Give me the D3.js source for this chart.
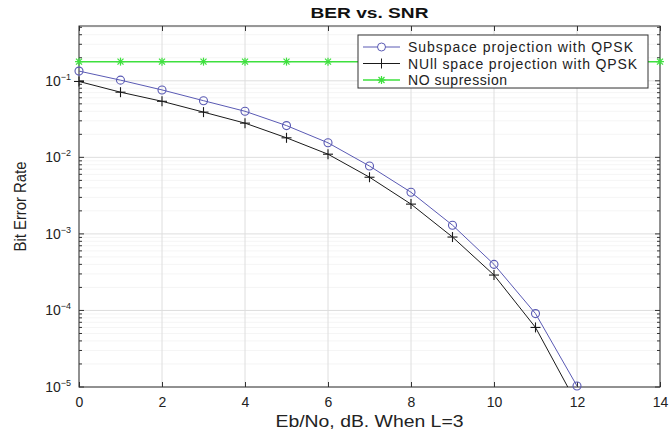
<!DOCTYPE html>
<html>
<head>
<meta charset="utf-8">
<script src="https://cdn.jsdelivr.net/npm/d3@7"></script>
<style>
  body { margin: 0; background: #fff; }
  svg { font-family: "Liberation Sans", Arial, sans-serif; }
</style>
</head>
<body>
<svg width="672" height="431"></svg>
<script>
// chart data
var snr = [0, 1, 2, 3, 4, 5, 6, 7, 8, 9, 10, 11, 12, 13, 14];
var subspaceBER = [0.134, 0.102, 0.076, 0.055, 0.040, 0.026, 0.0155, 0.0077, 0.0035, 0.0013, 0.0004, 0.000091, 0.0000103];
var nullBER = [0.098, 0.071, 0.054, 0.039, 0.028, 0.018, 0.011, 0.0055, 0.00245, 0.00091, 0.00029, 0.00006, 0.000006];
var noSupBER = [0.178, 0.178, 0.178, 0.178, 0.178, 0.178, 0.178, 0.178, 0.178, 0.178, 0.178, 0.178, 0.178, 0.178, 0.178];
var xTicks = [0, 2, 4, 6, 8, 10, 12, 14];
var yDecades = [-5, -4, -3, -2, -1];
var legendLabels = ["Subspace projection with QPSK", "NUll space projection with QPSK", "NO supression"];

var svg = d3.select("svg");
var margin = {top: 26, right: 12, bottom: 44, left: 79};
var width = 672 - margin.left - margin.right;
var height = 431 - margin.top - margin.bottom;

var x = d3.scaleLinear().domain([0, 14]).range([0, width]);
var y = d3.scaleLog().domain([1e-5, 0.52]).range([height, 0]);

var g = svg.append("g")
    .attr("transform", "translate(" + margin.left + "," + margin.top + ")");

svg.append("defs").append("clipPath").attr("id", "plotclip")
  .append("rect").attr("x", 0).attr("y", 0).attr("width", width).attr("height", height);

// minor log values
var minors = [];
yDecades.forEach(function(e) {
  for (var k = 2; k <= 9; k++) {
    var v = k * Math.pow(10, e);
    if (v <= 0.52) minors.push(v);
  }
});
var majors = yDecades.map(function(e) { return Math.pow(10, e); });

// grid
g.append("g").selectAll("line").data(minors).enter().append("line")
  .attr("x1", 0).attr("x2", width)
  .attr("y1", function(d) { return y(d); }).attr("y2", function(d) { return y(d); })
  .attr("stroke", "#f5f5f5").attr("stroke-width", 1);
g.append("g").selectAll("line").data(majors).enter().append("line")
  .attr("x1", 0).attr("x2", width)
  .attr("y1", function(d) { return y(d); }).attr("y2", function(d) { return y(d); })
  .attr("stroke", "#dedede").attr("stroke-width", 1);
g.append("g").selectAll("line").data(xTicks).enter().append("line")
  .attr("x1", function(d) { return x(d); }).attr("x2", function(d) { return x(d); })
  .attr("y1", 0).attr("y2", height)
  .attr("stroke", "#dedede").attr("stroke-width", 1);

// axes, ticks pointing inward
g.append("g").attr("transform", "translate(0," + height + ")")
  .call(d3.axisBottom(x).tickValues(xTicks).tickSize(-5).tickPadding(10).tickFormat(d3.format("d")))
  .call(function(a) { a.select(".domain").remove(); })
  .call(function(a) { a.selectAll("text").attr("font-size", 14).attr("fill", "#222"); })
  .call(function(a) { a.selectAll("line").attr("stroke", "#333"); });
g.append("g")
  .call(d3.axisTop(x).tickValues(xTicks).tickSize(-5).tickFormat(""))
  .call(function(a) { a.select(".domain").remove(); })
  .call(function(a) { a.selectAll("line").attr("stroke", "#333"); });

[0, width].forEach(function(px, i) {
  var dir = i === 0 ? 1 : -1;
  var ax = g.append("g");
  ax.selectAll(".mj").data(majors).enter().append("line")
    .attr("x1", px).attr("x2", px + dir * 5)
    .attr("y1", function(d) { return y(d); }).attr("y2", function(d) { return y(d); })
    .attr("stroke", "#333");
  ax.selectAll(".mn").data(minors).enter().append("line")
    .attr("x1", px).attr("x2", px + dir * 3)
    .attr("y1", function(d) { return y(d); }).attr("y2", function(d) { return y(d); })
    .attr("stroke", "#333");
});

// y tick labels 10^n
var yl = g.append("g").selectAll("text").data(yDecades).enter().append("text")
  .attr("x", -8).attr("y", function(d) { return y(Math.pow(10, d)) + 5; })
  .attr("text-anchor", "end").attr("font-size", 14).attr("fill", "#222");
yl.append("tspan").text("10");
yl.append("tspan").attr("dy", -6).attr("font-size", 9).text(function(d) { return "\u2212" + Math.abs(d); });

// frame
g.append("rect").attr("width", width).attr("height", height)
  .attr("fill", "none").attr("stroke", "#333").attr("stroke-width", 1);

// series
var line = d3.line().x(function(d) { return x(d[0]); }).y(function(d) { return y(d[1]); });
var plot = g.append("g").attr("clip-path", "url(#plotclip)");

var subData = subspaceBER.map(function(v, i) { return [snr[i], v]; });
var nullData = nullBER.map(function(v, i) { return [snr[i], v]; });
var noData = noSupBER.map(function(v, i) { return [snr[i], v]; });
function inRange(d) { return d[1] >= 1e-5 * 0.98; }

var blue = "#5a5ab4", black = "#1a1a1a", green = "#3ee03e";

function star(sel, color) {
  sel.each(function(d) {
    var s = d3.select(this), cx = x(d[0]), cy = y(d[1]), r = 4;
    s.append("line").attr("x1", cx - r).attr("x2", cx + r).attr("y1", cy).attr("y2", cy);
    s.append("line").attr("x1", cx).attr("x2", cx).attr("y1", cy - r).attr("y2", cy + r);
    s.append("line").attr("x1", cx - 3).attr("x2", cx + 3).attr("y1", cy - 3).attr("y2", cy + 3);
    s.append("line").attr("x1", cx - 3).attr("x2", cx + 3).attr("y1", cy + 3).attr("y2", cy - 3);
  }).attr("stroke", color).attr("stroke-width", 1.2);
}
function plus(sel, color) {
  sel.each(function(d) {
    var s = d3.select(this), cx = x(d[0]), cy = y(d[1]), r = 5;
    s.append("line").attr("x1", cx - r).attr("x2", cx + r).attr("y1", cy).attr("y2", cy);
    s.append("line").attr("x1", cx).attr("x2", cx).attr("y1", cy - r).attr("y2", cy + r);
  }).attr("stroke", color).attr("stroke-width", 1.1);
}

plot.append("path").datum(noData).attr("d", line)
  .attr("fill", "none").attr("stroke", green).attr("stroke-width", 1.5);
plot.append("path").datum(subData).attr("d", line)
  .attr("fill", "none").attr("stroke", blue).attr("stroke-width", 1);
plot.append("path").datum(nullData).attr("d", line)
  .attr("fill", "none").attr("stroke", black).attr("stroke-width", 1);

// markers are not clipped (only values inside the y range are drawn)
var marks = g.append("g");
marks.append("g").selectAll("g").data(noData.filter(inRange)).enter().append("g").call(star, green);
marks.append("g").selectAll("circle").data(subData.filter(inRange)).enter().append("circle")
  .attr("cx", function(d) { return x(d[0]); }).attr("cy", function(d) { return y(d[1]); })
  .attr("r", 4).attr("fill", "none").attr("stroke", blue).attr("stroke-width", 1.1);
marks.append("g").selectAll("g").data(nullData.filter(inRange)).enter().append("g").call(plus, black);

// legend
var lg = svg.append("g").attr("transform", "translate(358,35)");
lg.append("rect").attr("width", 290).attr("height", 53)
  .attr("fill", "#fff").attr("stroke", "#333").attr("stroke-width", 1);
var colors = [blue, black, green];
var legendWidths = [225, 229, 99];
legendLabels.forEach(function(lbl, i) {
  var yy = 12 + i * 16.5;
  lg.append("line").attr("x1", 5).attr("x2", 42).attr("y1", yy).attr("y2", yy)
    .attr("stroke", colors[i]).attr("stroke-width", i === 2 ? 1.5 : 1);
  if (i === 0) {
    lg.append("circle").attr("cx", 23.5).attr("cy", yy).attr("r", 4)
      .attr("fill", "#fff").attr("stroke", blue);
  } else if (i === 1) {
    lg.append("line").attr("x1", 23.5).attr("x2", 23.5).attr("y1", yy - 5).attr("y2", yy + 5).attr("stroke", black);
  } else {
    var m = lg.append("g");
    [[-4, 0, 4, 0], [0, -4, 0, 4], [-3, -3, 3, 3], [-3, 3, 3, -3]].forEach(function(s) {
      m.append("line").attr("x1", 23.5 + s[0]).attr("y1", yy + s[1]).attr("x2", 23.5 + s[2]).attr("y2", yy + s[3])
        .attr("stroke", green).attr("stroke-width", 1.2);
    });
  }
  lg.append("text").attr("x", 50).attr("y", yy + 5).attr("font-size", 14).attr("fill", "#222")
    .attr("textLength", legendWidths[i]).attr("lengthAdjust", "spacing").text(lbl);
});

// titles
svg.append("text").attr("x", margin.left + width / 2).attr("y", 18)
  .attr("text-anchor", "middle").attr("font-size", 14).attr("font-weight", "bold").attr("fill", "#111")
  .attr("textLength", 118).attr("lengthAdjust", "spacingAndGlyphs")
  .text("BER vs. SNR");
svg.append("text").attr("x", margin.left + width / 2).attr("y", 427)
  .attr("text-anchor", "middle").attr("font-size", 16).attr("fill", "#222")
  .attr("textLength", 188).attr("lengthAdjust", "spacingAndGlyphs")
  .text("Eb/No, dB. When L=3");
svg.append("text").attr("transform", "rotate(-90)")
  .attr("x", -(margin.top + height / 2)).attr("y", 26)
  .attr("text-anchor", "middle").attr("font-size", 16).attr("fill", "#222")
  .attr("textLength", 90).attr("lengthAdjust", "spacingAndGlyphs")
  .text("Bit Error Rate");
</script>
</body>
</html>
